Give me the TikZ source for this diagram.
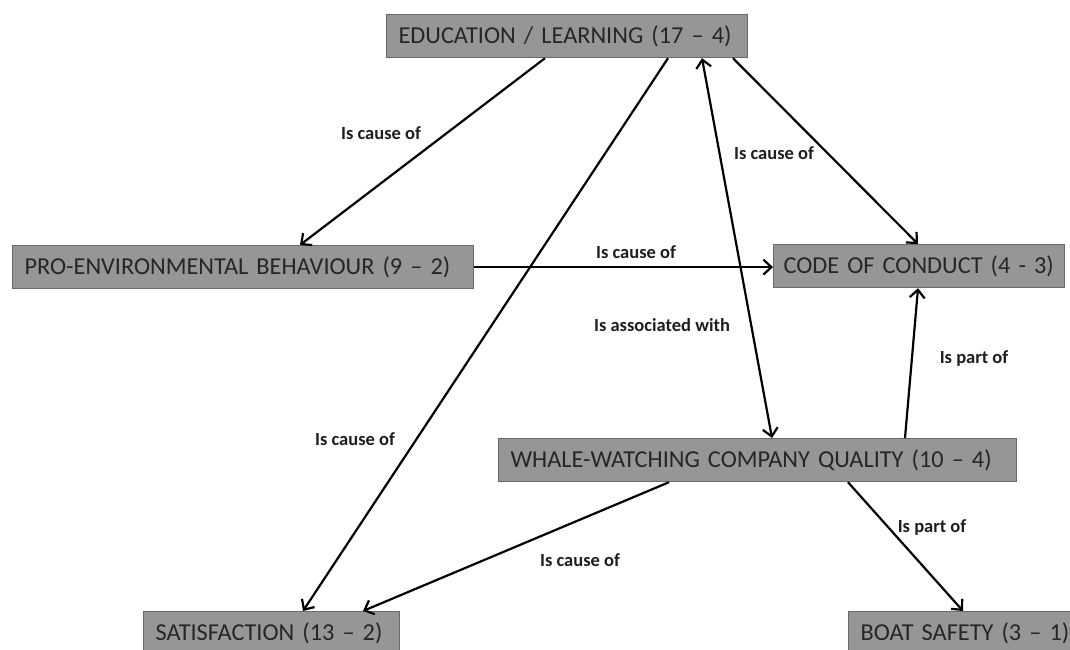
\documentclass[tikz,border=0pt]{standalone}
\usepackage{fontspec}
\setmainfont{Carlito}
\usetikzlibrary{arrows.meta}
\definecolor{boxfill}{HTML}{969696}
\definecolor{boxline}{HTML}{6A6A6A}
\definecolor{boxtext}{HTML}{262626}
\definecolor{labtext}{HTML}{1E1E1E}
\tikzset{
  cbox/.style={draw=boxline, line width=1.2pt, fill=boxfill, text=boxtext,
    minimum height=43pt, inner xsep=12pt, inner ysep=0pt, anchor=north west,
    align=left, font=\fontsize{24.3}{28}\selectfont},
  conn/.style={line width=2.2pt, -{Straight Barb[length=8pt,width=15pt,line width=2.2pt]}},
  dconn/.style={line width=2.2pt, {Straight Barb[length=8pt,width=15pt,line width=2.2pt]}-{Straight Barb[length=8pt,width=15pt,line width=2.2pt]}},
  lab/.style={text=labtext, font=\bfseries\fontsize{18.5}{21}\selectfont, inner sep=0pt}
}
\begin{document}
\begin{tikzpicture}[x=1pt,y=-1pt]
\useasboundingbox (0,0) rectangle (1070,650);
\clip (0,0) rectangle (1070,650);
% nodes
\node[cbox, text width=337pt] (edu) at (386,14) {\mbox{EDUCATION / LEARNING (17 – 4)}};
\node[cbox, text width=437pt] (pro) at (12,245) {\mbox{PRO-ENVIRONMENTAL BEHAVIOUR (9 – 2)}};
\node[cbox, inner xsep=10pt, text width=271pt] (code) at (773,244) {\mbox{CODE OF CONDUCT (4 - 3)}};
\node[cbox, text width=494pt] (whale) at (498,438) {\mbox{WHALE-WATCHING COMPANY QUALITY (10 – 4)}};
\node[cbox, text width=232pt] (sat) at (143,611) {\mbox{SATISFACTION (13 – 2)}};
\node[cbox, text width=236pt] (boat) at (848,611) {\mbox{BOAT SAFETY (3 – 1)}};
% connectors
\draw[conn] ([xshift=159pt]edu.south west) -- ([xshift=288pt]pro.north west);
\draw[conn] ([xshift=282pt]edu.south west) -- ([xshift=160pt]sat.north west);
\draw[dconn] ([xshift=316pt]edu.south west) -- ([xshift=274pt]whale.north west);
\draw[conn] ([xshift=347pt]edu.south west) -- ([xshift=145pt]code.north west);
\draw[conn] (pro.east) -- (code.west |- pro.east);
\draw[conn] ([xshift=407pt]whale.north west) -- ([xshift=145pt]code.south west);
\draw[conn] ([xshift=171pt]whale.south west) -- ([xshift=220pt]sat.north west);
\draw[conn] ([xshift=350pt]whale.south west) -- ([xshift=115pt]boat.north west);
% labels
\node[lab] (l1) at (381,133) {Is cause of};
\node[lab] (l2) at (774,153) {Is cause of};
\node[lab] (l3) at (636,252) {Is cause of};
\node[lab] (l4) at (662,325) {Is associated with};
\node[lab] (l5) at (974,359) {Is part of};
\node[lab] (l6) at (355,439) {Is cause of};
\node[lab] (l7) at (580,560) {Is cause of};
\node[lab] (l8) at (932,528) {Is part of};
\end{tikzpicture}
\end{document}
